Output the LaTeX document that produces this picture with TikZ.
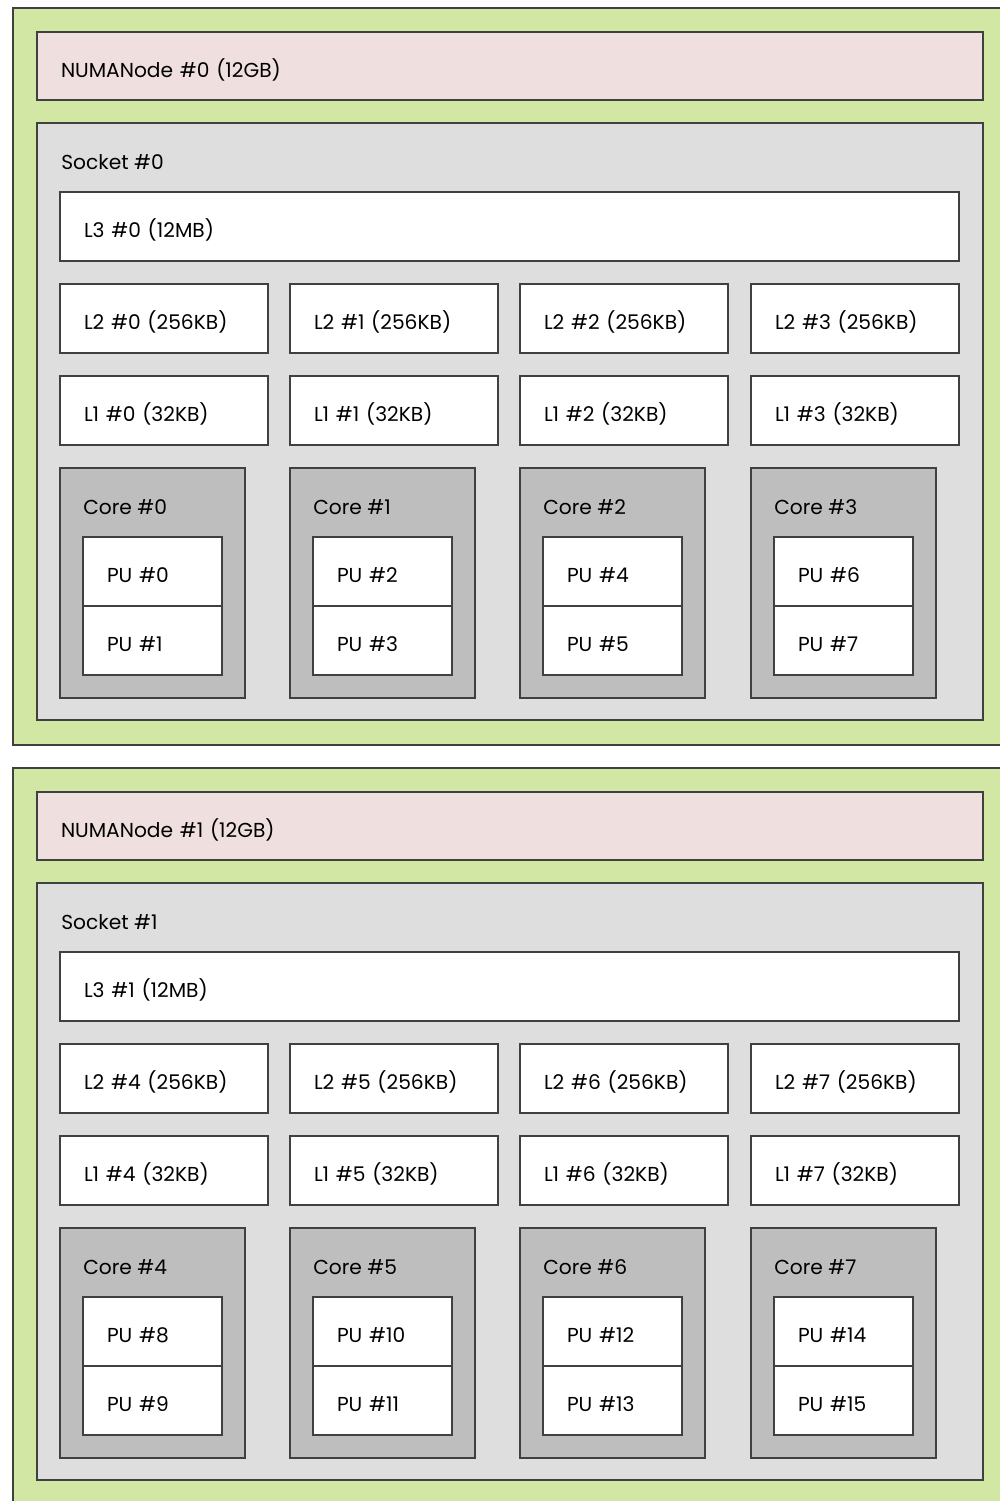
\documentclass[tikz,border=0pt]{standalone}
\usepackage{fontspec}
\setmainfont{Poppins}
\usetikzlibrary{positioning}
\newlength\unitpx
\setlength\unitpx{0.02cm}
\definecolor{groupgreen}{HTML}{D2E7A4}
\definecolor{numapink}{HTML}{EFDFDE}
\definecolor{socketgray}{HTML}{DEDEDE}
\definecolor{coregray}{HTML}{BEBEBE}

\begin{document}
\begin{tikzpicture}[x=0.02cm, y=-0.02cm,
  box/.style={draw=black!75, line width=1pt, anchor=north west, inner sep=0pt, outer sep=0pt},
  cachebox/.style={box, fill=white, minimum height=69\unitpx, inner xsep=24\unitpx, align=left,
    text height=22\unitpx, text depth=0pt, font=\fontsize{11.5}{13}\selectfont},
  boxlabel/.style={anchor=west, inner sep=0pt, text height=22\unitpx, text depth=0pt, font=\fontsize{11.5}{13}\selectfont}]
\clip (0,0) rectangle (1000,1501);
\foreach \g/\dy in {0/0,1/760}{
  \node[box, fill=groupgreen, minimum width=1007\unitpx, minimum height=737\unitpx] (group\g) at (13,8+\dy) {};
  \node[cachebox, fill=numapink, text width=898\unitpx, minimum height=68\unitpx] (numa\g) at (37,32+\dy) {NUMANode \#\g\ (12GB)};
  \node[box, fill=socketgray, minimum width=946\unitpx, minimum height=597\unitpx] (socket\g) at (37,123+\dy) {};
  \node[boxlabel] at ([xshift=24\unitpx,yshift=-35\unitpx]socket\g.north west) {Socket \#\g};
  \node[cachebox, text width=851\unitpx] (lthree\g) at (60,192+\dy) {L3 \#\g\ (12MB)};
  \foreach \c/\x in {0/60,1/290,2/520,3/751}{
    \pgfmathtruncatemacro\n{4*\g+\c}
    \pgfmathtruncatemacro\pa{8*\g+2*\c}
    \pgfmathtruncatemacro\pb{\pa+1}
    \node[cachebox, text width=160\unitpx] (ltwo\n) at (\x,284+\dy) {L2 \#\n\ (256KB)};
    \node[cachebox, text width=160\unitpx, below=23\unitpx of ltwo\n] (lone\n) {L1 \#\n\ (32KB)};
    \node[box, fill=coregray, minimum width=185\unitpx, minimum height=230\unitpx,
      below right=23\unitpx and 0pt of lone\n.south west] (core\n) {};
    \node[boxlabel] at ([xshift=23\unitpx,yshift=-35\unitpx]core\n.north west) {Core \#\n};
    \node[cachebox, text width=91\unitpx, below right=69\unitpx and 23\unitpx of core\n.north west] (pu\pa) {PU \#\pa};
    \node[cachebox, text width=91\unitpx, below=0pt of pu\pa] (pu\pb) {PU \#\pb};
  }
}
\end{tikzpicture}
\end{document}
